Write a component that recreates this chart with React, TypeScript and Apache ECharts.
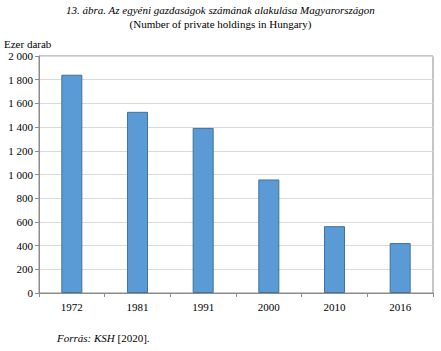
import React, { useEffect, useRef } from "react";
import * as echarts from "echarts";

const years = ["1972", "1981", "1991", "2000", "2010", "2016"];
const holdings = [1842, 1529, 1393, 958, 564, 421];
const yTicks = [0, 200, 400, 600, 800, 1000, 1200, 1400, 1600, 1800, 2000];

const titleText = "13. ábra. Az egyéni gazdaságok számának alakulása Magyarországon";
const subtitleText = "(Number of private holdings in Hungary)";
const unitText = "Ezer darab";

const fmt = (v: number) => {
  const s = String(v);
  return s.length > 3 ? s.slice(0, s.length - 3) + " " + s.slice(-3) : s;
};

export default function App() {
  const ref = useRef<HTMLDivElement>(null);
  useEffect(() => {
    if (!ref.current) return;
    const chart = echarts.init(ref.current, null, { renderer: "svg" });
    const font = "Times New Roman";
    chart.setOption({
      animation: false,
      backgroundColor: "#ffffff",
      textStyle: { fontFamily: font },
      grid: {
        left: 39,
        right: 8,
        top: 56,
        bottom: 58,
        show: true,
        borderColor: "#8c8c8c",
        borderWidth: 1,
      },
      xAxis: {
        type: "category",
        data: years,
        axisLine: { lineStyle: { color: "#8c8c8c" } },
        axisTick: { show: true, length: 4, lineStyle: { color: "#8c8c8c" } },
        axisLabel: { color: "#000", fontSize: 11, fontFamily: font, margin: 8 },
      },
      yAxis: {
        type: "value",
        min: yTicks[0],
        max: yTicks[yTicks.length - 1],
        interval: 200,
        axisLine: { show: true, lineStyle: { color: "#8c8c8c" } },
        axisTick: { show: true, length: 4, lineStyle: { color: "#8c8c8c" } },
        splitLine: { lineStyle: { color: "#d9d9d9" } },
        axisLabel: {
          color: "#000",
          fontSize: 11,
          fontFamily: font,
          margin: 6,
          formatter: (v: number) => fmt(v),
        },
      },
      series: [
        {
          type: "bar",
          data: holdings,
          barWidth: "32%",
          itemStyle: { color: "#5b9bd5", borderColor: "#41719c", borderWidth: 1 },
        },
      ],
      graphic: [
        {
          type: "text",
          left: "center",
          top: 4,
          style: {
            text: titleText,
            fontFamily: font,
            fontStyle: "italic",
            fontSize: 11,
            fill: "#000",
          },
        },
        {
          type: "text",
          left: "center",
          top: 18,
          style: {
            text: subtitleText,
            fontFamily: font,
            fontSize: 11,
            fill: "#000",
          },
        },
        {
          type: "text",
          left: 4,
          top: 38,
          style: {
            text: unitText,
            fontFamily: font,
            fontSize: 11,
            fill: "#000",
          },
        },
        {
          type: "text",
          left: 57,
          top: 332,
          style: {
            text: "{i|Forrás:} {i|KSH} {n|[2020].}",
            fill: "#000",
            fontFamily: font,
            fontSize: 11,
            rich: {
              i: { fontStyle: "italic", fontSize: 11, fontFamily: font },
              n: { fontSize: 11, fontFamily: font },
            },
          },
        },
      ],
    });
    return () => chart.dispose();
  }, []);
  return <div ref={ref} style={{ width: 441, height: 351, position: "absolute", left: 0, top: 0 }} />;
}
